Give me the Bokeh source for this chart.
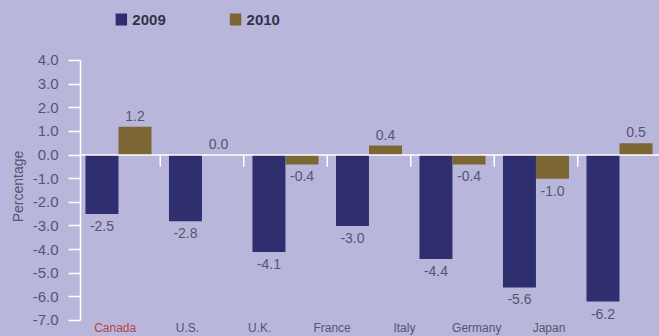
import numpy as np
from bokeh.plotting import figure
from bokeh.layouts import column
from bokeh.models import (ColumnDataSource, Range1d, FixedTicker, NumeralTickFormatter, Span)
from bokeh.core.properties import value
from bokeh.embed import file_html
from bokeh.resources import INLINE

# ---- data ----
countries = ["Canada", "U.S.", "U.K.", "France", "Italy", "Germany", "Japan"]
y2009 = [-2.5, -2.8, -4.1, -3.0, -4.4, -5.6, -6.2]
y2010 = [1.2, 0.0, -0.4, 0.4, -0.4, -1.0, 0.5]
series = ["2009", "2010"]
y_ticks = [4.0, 3.0, 2.0, 1.0, 0.0, -1.0, -2.0, -3.0, -4.0, -5.0, -6.0, -7.0]

# ---- style ----
BG = "#b9b6dc"
C09 = "#2f2e6e"
C10 = "#7b6634"
TXT = "#55556e"
RED = "#b8434a"
FONT = "Liberation Sans"
W = 659
LEG_H = 36
MAIN_H = 336 - LEG_H

n = len(countries)
idx = np.arange(n)
bw = 0.395
off = 0.198

# ---------- legend strip ----------
leg = figure(width=W, height=LEG_H, output_backend="svg", toolbar_location=None,
             x_range=Range1d(0, W), y_range=Range1d(LEG_H, 0),
             min_border=0, x_axis_location=None, y_axis_location=None)
leg.background_fill_color = None
leg.border_fill_color = BG
leg.outline_line_color = None
leg.grid.visible = False
leg_src = ColumnDataSource(dict(x=[46.5 + 130 * i for i in range(len(series))],
                                y=[19] * len(series), t=series, c=[C09, C10]))
leg.rect(x="x", y="y", width=13, height=12, fill_color="c", line_color=None, source=leg_src)
leg.text(x="x", y="y", text="t", x_offset=11, source=leg_src, text_align="left",
         text_baseline="middle", text_font=value(FONT), text_font_style="bold",
         text_font_size="15px", text_color="#33334a")

# ---------- main chart ----------
p = figure(width=W, height=MAIN_H, output_backend="svg", toolbar_location=None,
           x_range=Range1d(-0.455, 6.479), y_range=Range1d(-7.678, 5.013),
           min_border_left=80, min_border_right=0, min_border_top=0, min_border_bottom=0,
           x_axis_location=None)
p.background_fill_color = None
p.border_fill_color = BG
p.outline_line_color = None
p.xgrid.visible = False
p.ygrid.visible = False

# bars
s09 = ColumnDataSource(dict(x=idx - off, top=y2009))
s10 = ColumnDataSource(dict(x=idx + off, top=y2010))
p.vbar(x="x", top="top", bottom=0, width=bw, source=s09, fill_color=C09, line_color=None)
p.vbar(x="x", top="top", bottom=0, width=bw, source=s10, fill_color=C10, line_color=None)

# zero line and group separators
p.add_layout(Span(location=0, dimension="width", line_color="white", line_width=1.5))
p.segment(x0=list(idx[:-1] + 0.5), y0=[0] * (n - 1), x1=list(idx[:-1] + 0.5), y1=[-0.5] * (n - 1),
          line_color="white", line_width=1.5)

# value labels
def lab_src(xs, vals):
    return ColumnDataSource(dict(
        x=list(xs), y=vals, t=["%.1f" % v for v in vals],
        yo=[12 if v < 0 else -11 for v in vals]))

for xs, vals in ((idx - off, y2009), (idx + off, y2010)):
    p.text(x="x", y="y", text="t", y_offset="yo", source=lab_src(xs, vals),
           text_align="center", text_baseline="middle", text_font=value(FONT),
           text_font_size="14px", text_color=TXT)

# category labels
cat_src = ColumnDataSource(dict(x=list(-0.04 + idx * 0.866), y=[y_ticks[-1]] * n, t=countries,
                                c=[RED if i == 0 else TXT for i in range(n)]))
p.text(x="x", y="y", text="t", text_color="c", y_offset=8, source=cat_src,
       text_align="center", text_baseline="middle", text_font=value(FONT), text_font_size="12px")

# y axis
ax = p.yaxis[0]
ax.ticker = FixedTicker(ticks=y_ticks)
ax.bounds = (y_ticks[-1], y_ticks[0])
ax.formatter = NumeralTickFormatter(format="0.0")
ax.axis_line_color = "white"
ax.axis_line_width = 1.5
ax.major_tick_line_color = "white"
ax.major_tick_line_width = 1.5
ax.major_tick_out = 12
ax.major_tick_in = 0
ax.minor_tick_line_color = None
ax.major_label_standoff = 10
ax.major_label_text_font = FONT
ax.major_label_text_font_size = "15px"
ax.major_label_text_color = TXT
ax.axis_label = "Percentage"
ax.axis_label_text_font = FONT
ax.axis_label_text_font_style = "normal"
ax.axis_label_text_font_size = "14px"
ax.axis_label_text_color = TXT
ax.axis_label_standoff = 4

layout = column(leg, p, spacing=0, styles={"background-color": BG})
open("out.html", "w").write(file_html(layout, INLINE))
